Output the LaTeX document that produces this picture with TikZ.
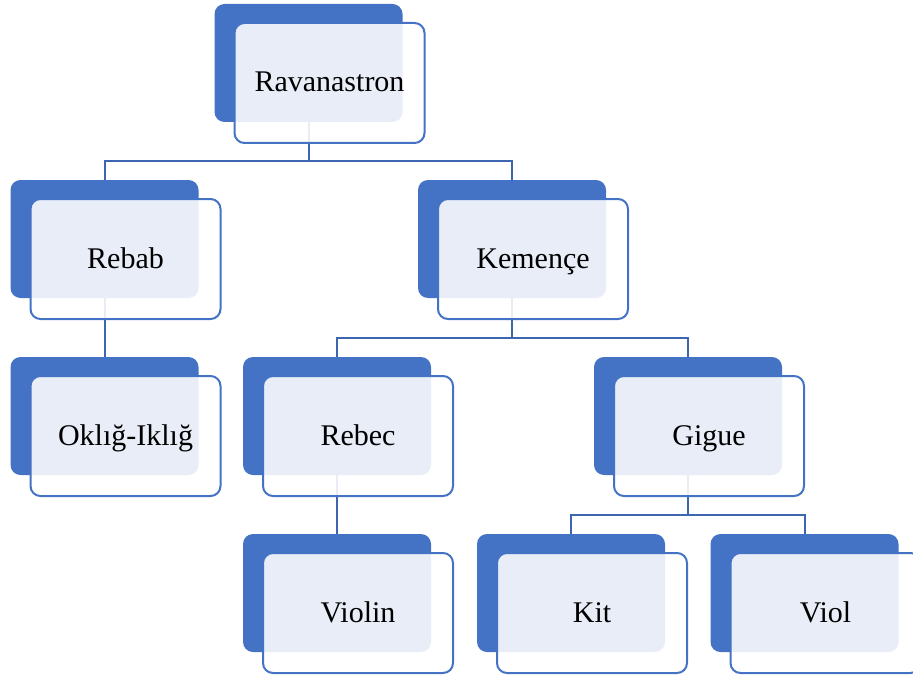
\documentclass[tikz,border=0pt]{standalone}
\usepackage{fontspec}
\setmainfont{Liberation Serif}
\usetikzlibrary{backgrounds}
\definecolor{accent}{HTML}{4472C4}
\definecolor{linkblue}{HTML}{3E66B0}

\begin{document}
\begin{tikzpicture}[x=0.5pt, y=-0.5pt,
  backbox/.style={rectangle, rounded corners=5pt, fill=accent, minimum width=94pt, minimum height=59pt, inner sep=0pt},
  frontbox/.style={rectangle, rounded corners=5pt, draw=accent, line width=1pt, fill=white, fill opacity=0.88, text opacity=1, minimum width=95pt, minimum height=60pt, inner sep=0pt, text height=10pt, text depth=1pt, font=\fontsize{15}{18}\selectfont},
  link/.style={draw=linkblue, line width=1pt}]
\useasboundingbox (0,0) rectangle (913,679);
% back boxes
\node[backbox] (rav-b) at (308.5,63) {};
\node[backbox] (reb-b) at (104.5,239) {};
\node[backbox] (okl-b) at (104.5,416) {};
\node[backbox] (kem-b) at (512,239) {};
\node[backbox] (rbc-b) at (337,416) {};
\node[backbox] (gig-b) at (688,416) {};
\node[backbox] (vio-b) at (337,593) {};
\node[backbox] (kit-b) at (571,593) {};
\node[backbox] (vil-b) at (804.5,593) {};
% front boxes
\node[frontbox] (rav) at ([shift={(21,20)}]rav-b) {Ravanastron};
\node[frontbox] (reb) at ([shift={(21,20)}]reb-b) {Rebab};
\node[frontbox] (okl) at ([shift={(21,20)}]okl-b) {Oklığ-Iklığ};
\node[frontbox] (kem) at ([shift={(21,20)}]kem-b) {Kemençe};
\node[frontbox] (rbc) at ([shift={(21,20)}]rbc-b) {Rebec};
\node[frontbox] (gig) at ([shift={(21,20)}]gig-b) {Gigue};
\node[frontbox] (vio) at ([shift={(21,20)}]vio-b) {Violin};
\node[frontbox] (kit) at ([shift={(21,20)}]kit-b) {Kit};
\node[frontbox] (vil) at ([shift={(21,20)}]vil-b) {Viol};
% connectors
\begin{scope}[on background layer]
\draw[link] (reb-b.north) -- ++(0,-19) -| (rav-b.south);
\draw[link] (kem-b.north) -- ++(0,-19) -| (rav-b.south);
\draw[link] (reb-b.south) -- (okl-b.north);
\draw[link] (rbc-b.north) -- ++(0,-19) -| (kem-b.south);
\draw[link] (gig-b.north) -- ++(0,-19) -| (kem-b.south);
\draw[link] (rbc-b.south) -- (vio-b.north);
\draw[link] (kit-b.north) -- ++(0,-19) -| (gig-b.south);
\draw[link] (vil-b.north) -- ++(0,-19) -| (gig-b.south);
\end{scope}
\end{tikzpicture}
\end{document}
